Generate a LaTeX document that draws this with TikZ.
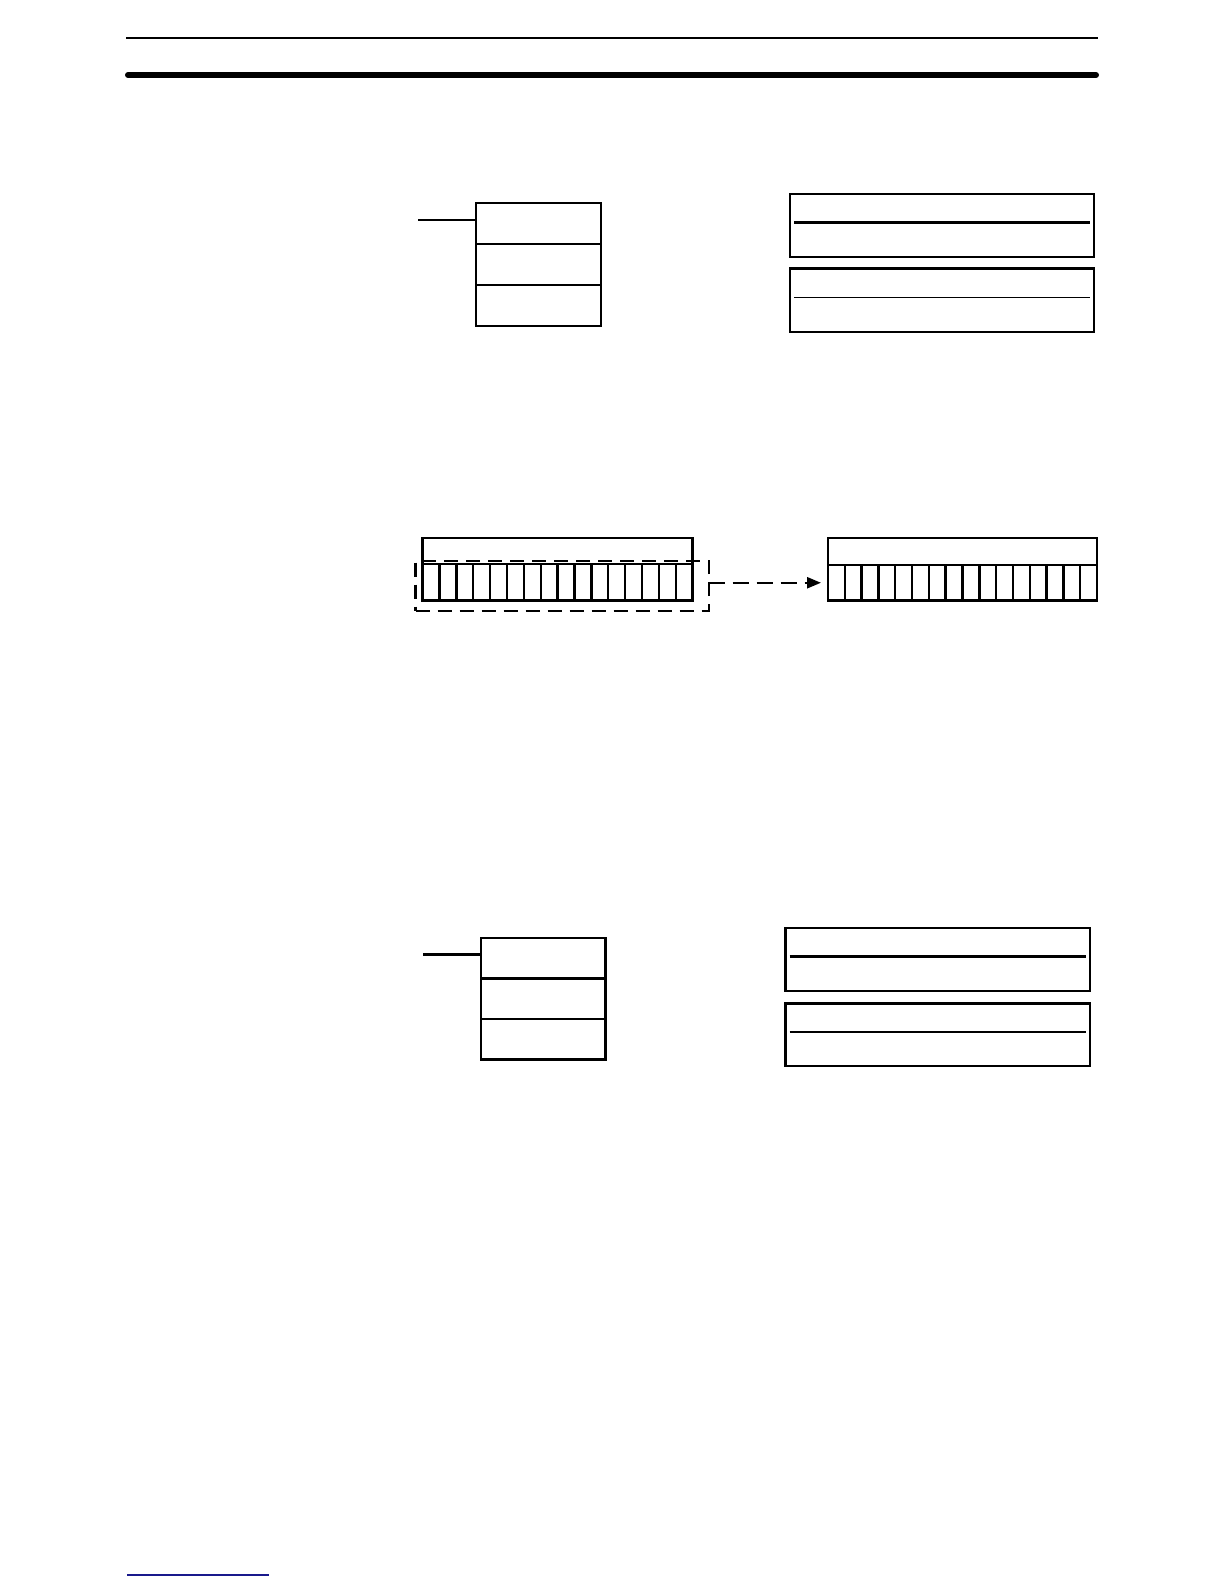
\documentclass[tikz,border=0pt]{standalone}
\usetikzlibrary{calc,arrows.meta}
\definecolor{linkblue}{RGB}{25,25,140}
\begin{document}
\begin{tikzpicture}[x=0.5bp,y=-0.5bp,line width=1.2bp,
  box/.style={draw,inner sep=0pt,outer sep=0pt},
  dashbox/.style={draw,dash pattern=on 7bp off 4bp,inner sep=0pt,outer sep=0pt}]
\useasboundingbox (0,0) rectangle (1224,1584);
\draw[line width=1bp] (126,37.5) -- (1098,37.5);
\draw[line width=3bp,line cap=round] (128,75) -- (1096,75);
\node[box,minimum width=62.5bp,minimum height=61.5bp] (ladA) at (538.5,264.5) {};
\node[box,minimum width=62.3bp,minimum height=60.75bp] (ladB) at (543.3,998.8) {};
\foreach \f in {1,2} {
  \draw ($(ladA.north west)!\f/3!(ladA.south west)$) -- ($(ladA.north east)!\f/3!(ladA.south east)$);
  \draw ($(ladB.north west)!\f/3!(ladB.south west)$) -- ($(ladB.north east)!\f/3!(ladB.south east)$);
}
\coordinate (inA) at (418,220);
\coordinate (inB) at (423,954.4);
\draw (inA) -- (inA -| ladA.west);
\draw (inB) -- (inB -| ladB.west);
\node[box,minimum width=152bp,minimum height=31.5bp] (memA1) at (942,225.5) {};
\node[box,minimum width=152bp,minimum height=31.75bp] (memA2) at (942,300.3) {};
\node[box,minimum width=152.25bp,minimum height=31.4bp] (memB1) at (937.8,959.4) {};
\node[box,minimum width=152.25bp,minimum height=31.25bp] (memB2) at (937.8,1034.8) {};
\draw ([shift={(4,-3)}]memA1.west) -- ([shift={(-4,-3)}]memA1.east);
\draw[line width=0.7bp] ([shift={(4,-3)}]memA2.west) -- ([shift={(-4,-3)}]memA2.east);
\draw ([shift={(4,-3)}]memB1.west) -- ([shift={(-4,-3)}]memB1.east);
\draw ([shift={(4,-3)}]memB2.west) -- ([shift={(-4,-3)}]memB2.east);
\node[box,minimum width=135bp,minimum height=13bp] (wordL) at (557.6,551) {};
\node[box,minimum width=135bp,minimum height=18.25bp] (rowL) at (557.6,582.3) {};
\node[box,minimum width=134.5bp,minimum height=13.5bp] (wordR) at (962.5,551.5) {};
\node[box,minimum width=134.5bp,minimum height=17.75bp] (rowR) at (962.5,582.75) {};
\foreach \i in {1,...,15} {
  \draw ($(rowL.north west)!\i/16!(rowL.north east)$) -- ($(rowL.south west)!\i/16!(rowL.south east)$);
  \draw ($(rowR.north west)!\i/16!(rowR.north east)$) -- ($(rowR.south west)!\i/16!(rowR.south east)$);
}
\node[dashbox,minimum width=146.6bp,minimum height=25bp] (selL) at (562.1,586) {};
\draw[dash pattern=on 8bp off 4bp,-{Triangle[length=7bp,width=5.5bp]},shorten >=3.5bp] (selL.east |- rowR.west) -- (rowR.west);
\draw[linkblue,line width=1bp] (127,1575) -- (269,1575);
\end{tikzpicture}
\end{document}
